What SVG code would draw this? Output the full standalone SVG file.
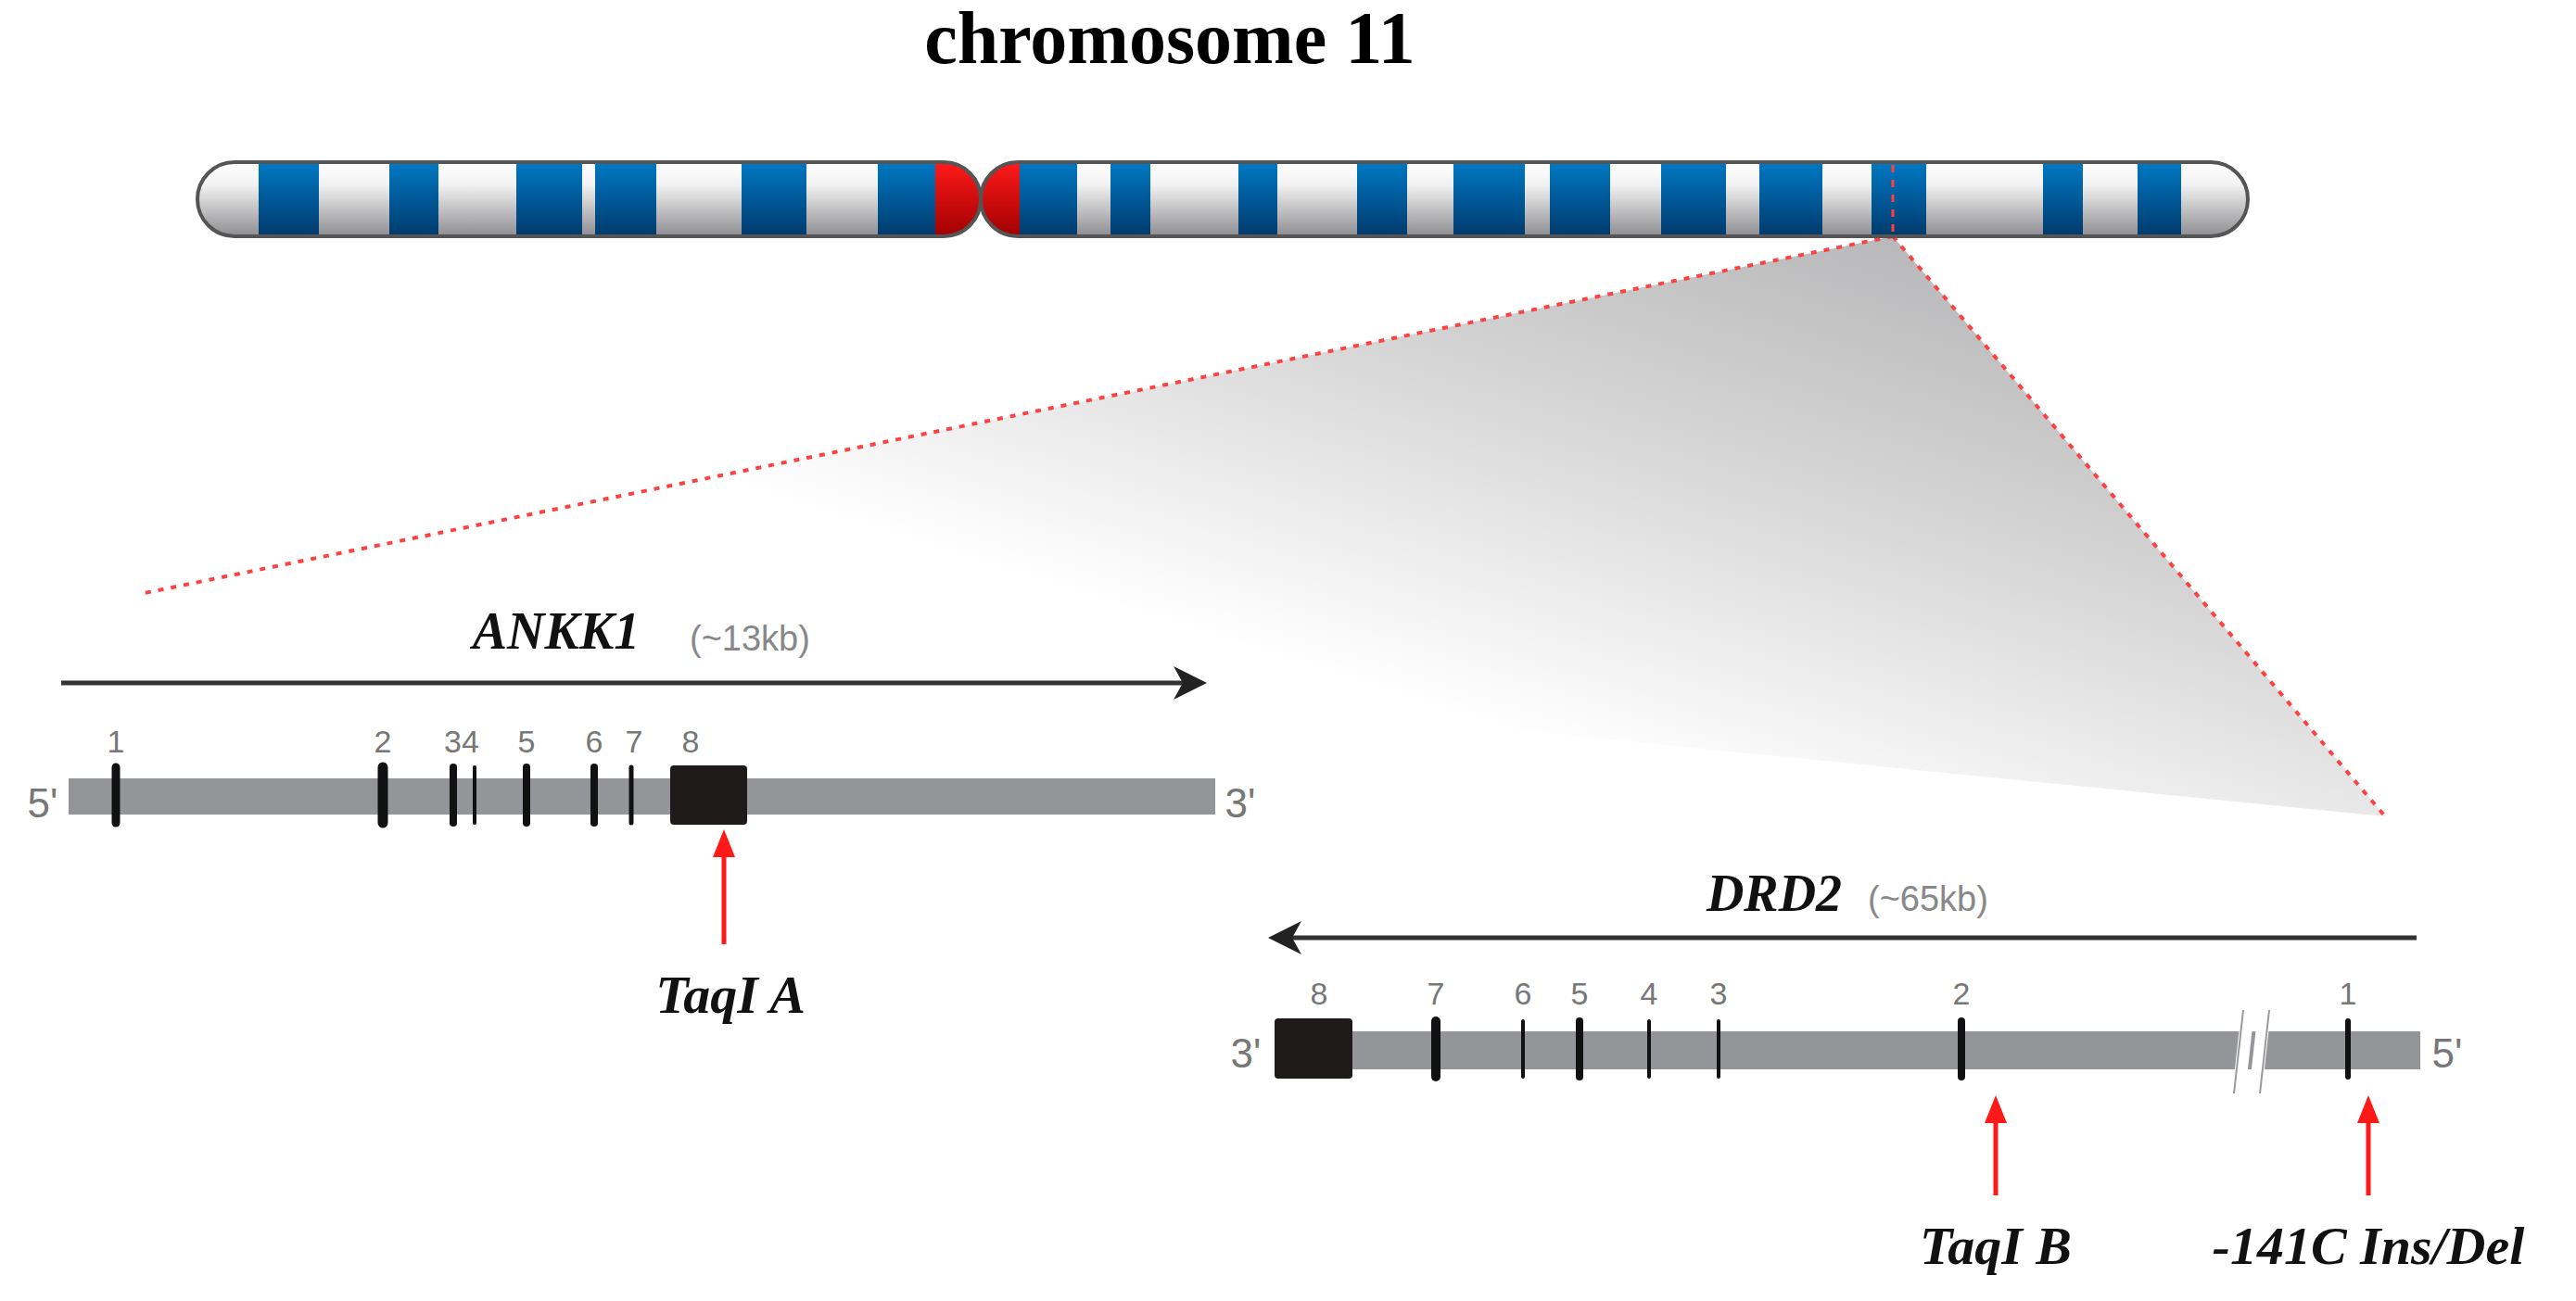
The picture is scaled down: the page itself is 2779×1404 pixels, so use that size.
<svg xmlns="http://www.w3.org/2000/svg" width="2779" height="1404" viewBox="0 0 2779 1404">
<defs>
<linearGradient id="wg" x1="0" y1="0" x2="0" y2="1"><stop offset="0" stop-color="#ffffff"/><stop offset="0.3" stop-color="#f2f2f2"/><stop offset="1" stop-color="#8e8e92"/></linearGradient>
<linearGradient id="bg" x1="0" y1="0" x2="0" y2="1"><stop offset="0" stop-color="#0079c4"/><stop offset="1" stop-color="#003a6c"/></linearGradient>
<linearGradient id="rg" x1="0" y1="0" x2="0" y2="1"><stop offset="0" stop-color="#ff1a1a"/><stop offset="1" stop-color="#a00000"/></linearGradient>
<linearGradient id="tg" gradientUnits="userSpaceOnUse" x1="2042" y1="255" x2="1850" y2="860"><stop offset="0" stop-color="#b8b8ba"/><stop offset="0.45" stop-color="#d6d6d6"/><stop offset="1" stop-color="#ffffff"/></linearGradient>
<clipPath id="lc"><rect x="213" y="175" width="845" height="80" rx="40" ry="40"/></clipPath>
<clipPath id="rc"><rect x="1058" y="175" width="1367" height="80" rx="40" ry="40"/></clipPath>
<style>
.band{fill:url(#bg)}
.ex{stroke:#111;stroke-linecap:round}
.num{font-family:"Liberation Sans",Arial,sans-serif;font-size:34px;fill:#777;text-anchor:middle}
.end{font-family:"Liberation Sans",Arial,sans-serif;font-size:44px;fill:#777;text-anchor:middle}
.gene{font-family:"Liberation Serif","Times New Roman",serif;font-weight:bold;font-style:italic;font-size:56px;fill:#111}
.kb{font-family:"Liberation Sans",Arial,sans-serif;font-size:38px;fill:#888}
.lab{font-family:"Liberation Serif","Times New Roman",serif;font-weight:bold;font-style:italic;font-size:58px;fill:#111;text-anchor:middle}
.bar{fill:#939598}
.red{stroke:#ff1a1a;stroke-width:5}
.rh{fill:#ff1a1a}
</style>
</defs>
<rect width="2779" height="1404" fill="#fff"/>
<text x="1262" y="68" text-anchor="middle" font-family="Liberation Serif,'Times New Roman',serif" font-weight="bold" font-size="80" fill="#000">chromosome 11</text>

<g id="zoom-wedge">
<polygon points="2042,255 151,641 2573,881" fill="url(#tg)"/>
<line x1="2042" y1="255" x2="151" y2="641" stroke="#ff4040" stroke-width="4" stroke-dasharray="6,8"/>
<line x1="2042" y1="255" x2="2573" y2="881" stroke="#ff4040" stroke-width="4" stroke-dasharray="6,8"/>
</g>

<g id="chromosome">
<g clip-path="url(#lc)">
<rect x="213" y="175" width="845" height="80" fill="url(#wg)"/>
<rect class="band" x="279" y="175" width="65" height="80"/>
<rect class="band" x="420" y="175" width="53" height="80"/>
<rect class="band" x="557" y="175" width="71" height="80"/>
<rect class="band" x="642" y="175" width="66" height="80"/>
<rect class="band" x="800" y="175" width="70" height="80"/>
<rect class="band" x="947" y="175" width="62" height="80"/>
<rect x="1009" y="175" width="60" height="80" fill="url(#rg)"/>
</g>
<rect x="213" y="175" width="845" height="80" rx="40" ry="40" fill="none" stroke="#555" stroke-width="4"/>
<g clip-path="url(#rc)">
<rect x="1058" y="175" width="1367" height="80" fill="url(#wg)"/>
<rect x="1050" y="175" width="50" height="80" fill="url(#rg)"/>
<rect class="band" x="1100" y="175" width="62" height="80"/>
<rect class="band" x="1198" y="175" width="43" height="80"/>
<rect class="band" x="1336" y="175" width="42" height="80"/>
<rect class="band" x="1464" y="175" width="54" height="80"/>
<rect class="band" x="1568" y="175" width="77" height="80"/>
<rect class="band" x="1672" y="175" width="65" height="80"/>
<rect class="band" x="1792" y="175" width="70" height="80"/>
<rect class="band" x="1898" y="175" width="68" height="80"/>
<rect class="band" x="2019" y="175" width="59" height="80"/>
<rect class="band" x="2204" y="175" width="43" height="80"/>
<rect class="band" x="2306" y="175" width="47" height="80"/>
</g>
<rect x="1058" y="175" width="1367" height="80" rx="40" ry="40" fill="none" stroke="#555" stroke-width="4"/>
<line x1="2042" y1="178" x2="2042" y2="255" stroke="#ff4040" stroke-width="3" stroke-dasharray="8,8"/>
</g>

<g id="ANKK1">
<line x1="66" y1="737" x2="1285" y2="737" stroke="#333" stroke-width="5"/>
<path d="M1302,737 L1266,719 L1276,737 L1266,755 z" fill="#222"/>
<text class="gene" x="600" y="700" text-anchor="middle">ANKK1</text>
<text class="kb" x="744" y="702">(~13kb)</text>
<rect class="bar" x="74" y="840" width="1237" height="39"/>
<text class="end" x="46" y="882">5'</text>
<text class="end" x="1338" y="882">3'</text>
<g class="ex">
<line x1="125" y1="828" x2="125" y2="888" stroke-width="9"/>
<line x1="413" y1="828" x2="413" y2="888" stroke-width="11"/>
<line x1="489" y1="828" x2="489" y2="888" stroke-width="8"/>
<line x1="512" y1="828" x2="512" y2="888" stroke-width="4"/>
<line x1="568" y1="828" x2="568" y2="888" stroke-width="8"/>
<line x1="641" y1="828" x2="641" y2="888" stroke-width="8"/>
<line x1="681" y1="828" x2="681" y2="888" stroke-width="5"/>
</g>
<rect x="723" y="826" width="83" height="64" rx="4" fill="#1e1a1a"/>
<text class="num" x="125" y="812">1</text>
<text class="num" x="413" y="812">2</text>
<text class="num" x="498" y="812">34</text>
<text class="num" x="568" y="812">5</text>
<text class="num" x="641" y="812">6</text>
<text class="num" x="684" y="812">7</text>
<text class="num" x="745" y="812">8</text>
</g>

<g id="DRD2">
<line x1="2607" y1="1012" x2="1385" y2="1012" stroke="#333" stroke-width="5"/>
<path d="M1368,1012 L1404,994 L1394,1012 L1404,1030 z" fill="#222"/>
<text class="gene" x="1914" y="983" text-anchor="middle">DRD2</text>
<text class="kb" x="2015" y="983">(~65kb)</text>
<rect class="bar" x="1459" y="1113" width="1152" height="41"/>
<text class="end" x="1344" y="1152">3'</text>
<text class="end" x="2640" y="1152">5'</text>
<rect x="1375" y="1099" width="84" height="65" rx="4" fill="#1e1a1a"/>
<g class="ex">
<line x1="1549" y1="1102" x2="1549" y2="1162" stroke-width="10"/>
<line x1="1643" y1="1102" x2="1643" y2="1162" stroke-width="4"/>
<line x1="1704" y1="1102" x2="1704" y2="1162" stroke-width="8"/>
<line x1="1779" y1="1102" x2="1779" y2="1162" stroke-width="4"/>
<line x1="1854" y1="1102" x2="1854" y2="1162" stroke-width="4"/>
<line x1="2116" y1="1102" x2="2116" y2="1162" stroke-width="8"/>
<line x1="2533" y1="1102" x2="2533" y2="1162" stroke-width="6"/>
</g>
<polygon points="2418,1090 2432,1090 2422,1180 2408,1180" fill="#fff"/>
<polygon points="2436,1090 2450,1090 2440,1180 2426,1180" fill="#fff"/>
<line x1="2420" y1="1090" x2="2410" y2="1180" stroke="#999" stroke-width="2"/>
<line x1="2448" y1="1090" x2="2438" y2="1180" stroke="#999" stroke-width="2"/>
<text class="num" x="1423" y="1084">8</text>
<text class="num" x="1549" y="1084">7</text>
<text class="num" x="1643" y="1084">6</text>
<text class="num" x="1704" y="1084">5</text>
<text class="num" x="1779" y="1084">4</text>
<text class="num" x="1854" y="1084">3</text>
<text class="num" x="2116" y="1084">2</text>
<text class="num" x="2533" y="1084">1</text>
</g>

<g id="connectors">
<line class="red" x1="781" y1="1019" x2="781" y2="920"/>
<polygon class="rh" points="781,895 769,925 793,925"/>
<line class="red" x1="2153" y1="1290" x2="2153" y2="1205"/>
<polygon class="rh" points="2153,1182 2141,1212 2165,1212"/>
<line class="red" x1="2555" y1="1290" x2="2555" y2="1205"/>
<polygon class="rh" points="2555,1182 2543,1212 2567,1212"/>
</g>

<g id="labels">
<text class="lab" x="788" y="1093">TaqI A</text>
<text class="lab" x="2153" y="1364">TaqI B</text>
<text class="lab" x="2555" y="1364">-141C Ins/Del</text>
</g>
</svg>
